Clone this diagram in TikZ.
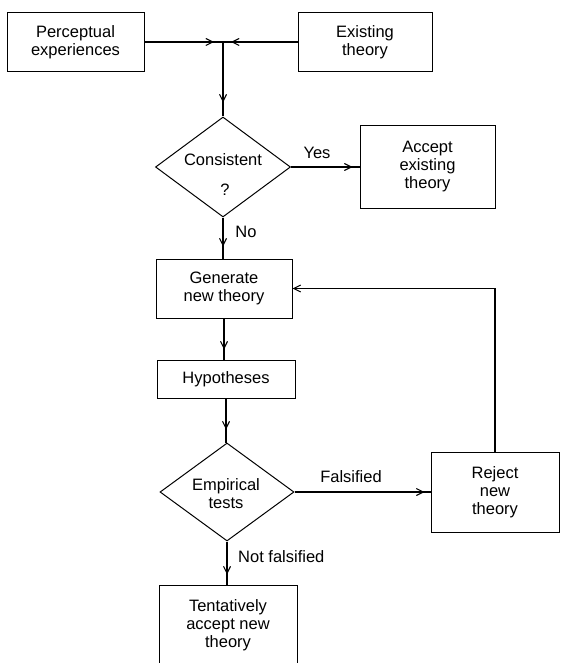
\documentclass[tikz,border=0pt]{standalone}
\usepackage{fontspec}
\setmainfont{Liberation Sans}
\usetikzlibrary{arrows.meta,decorations.markings,shapes.geometric}
\begin{document}
\begin{tikzpicture}[x=1pt,y=-1pt,
  box/.style={draw, line width=1pt, inner sep=0pt, align=center, font=\fontsize{16.5}{18}\selectfont},
  dia/.style={draw, shape=diamond, line width=1pt, inner sep=0pt},
  txt/.style={inner sep=0pt, align=center, font=\fontsize{16.5}{18}\selectfont},
  conn/.style={line width=1.3pt},
  tipat/.style={postaction={decorate}, decoration={markings, mark=at position #1 with {\arrow{Straight Barb[length=7pt,width=7pt,line width=1.1pt]}}}}
]
\useasboundingbox (0,0) rectangle (561,663);
\node[box, minimum width=137pt, minimum height=59pt] (perc) at (75.5,42) {Perceptual\\experiences};
\node[box, minimum width=134pt, minimum height=59pt] (exist) at (365,42) {Existing\\theory};
\coordinate (j) at (223,42);
\node[dia, minimum width=135pt, minimum height=100pt] (cons) at (223,167) {};
\node[txt] (consT) at (223,160) {Consistent};
\node[txt] (consQ) at (225,190) {?};
\node[box, minimum width=135pt, minimum height=82pt] (accept) at (427.5,167) {Accept\\existing\\theory};
\node[box, minimum width=136pt, minimum height=59pt] (gen) at (224,288.5) {Generate\\new theory};
\node[box, minimum width=138pt, minimum height=38pt] (hyp) at (226,379) {Hypotheses};
\node[dia, minimum width=134pt, minimum height=98pt] (emp) at (227,492) {};
\node[txt] (empT) at (226,494) {Empirical\\tests};
\node[box, minimum width=128pt, minimum height=80pt] (reject) at (495,492) {Reject\\new\\theory};
\node[box, minimum width=138pt, minimum height=80pt] (tent) at (228,625) {Tentatively\\accept new\\theory};

\draw[conn, tipat=-9pt] (perc.east) -- (j);
\draw[conn, tipat=-8pt] (exist.west) -- (j);
\draw[conn, tipat=-14pt] (j) -- (cons.north);
\draw[conn, tipat=-7pt] (cons.east) -- (accept.west);
\node[txt] (yes) at (317,153) {Yes};
\draw[conn, tipat=-12pt] (cons.south) -- (cons.south |- gen.north);
\node[txt] (no) at (246,232) {No};
\draw[conn, tipat=-10pt] (gen.south) -- (gen.south |- hyp.north);
\draw[conn, tipat=-13pt] (hyp.south) -- (hyp.south |- emp.north);
\draw[conn, tipat=-6pt] (emp.east) -- (reject.west);
\node[txt] (fals) at (351,477) {Falsified};
\draw[conn, tipat=-10pt] (emp.south) -- (emp.south |- tent.north);
\node[txt, anchor=west] (nfals) at (238,557) {Not falsified};
\draw[conn, -{Straight Barb[length=7pt,width=7pt,line width=1.1pt]}] (reject.north) -- (reject.north |- gen.east) -- (gen.east);
\end{tikzpicture}
\end{document}
